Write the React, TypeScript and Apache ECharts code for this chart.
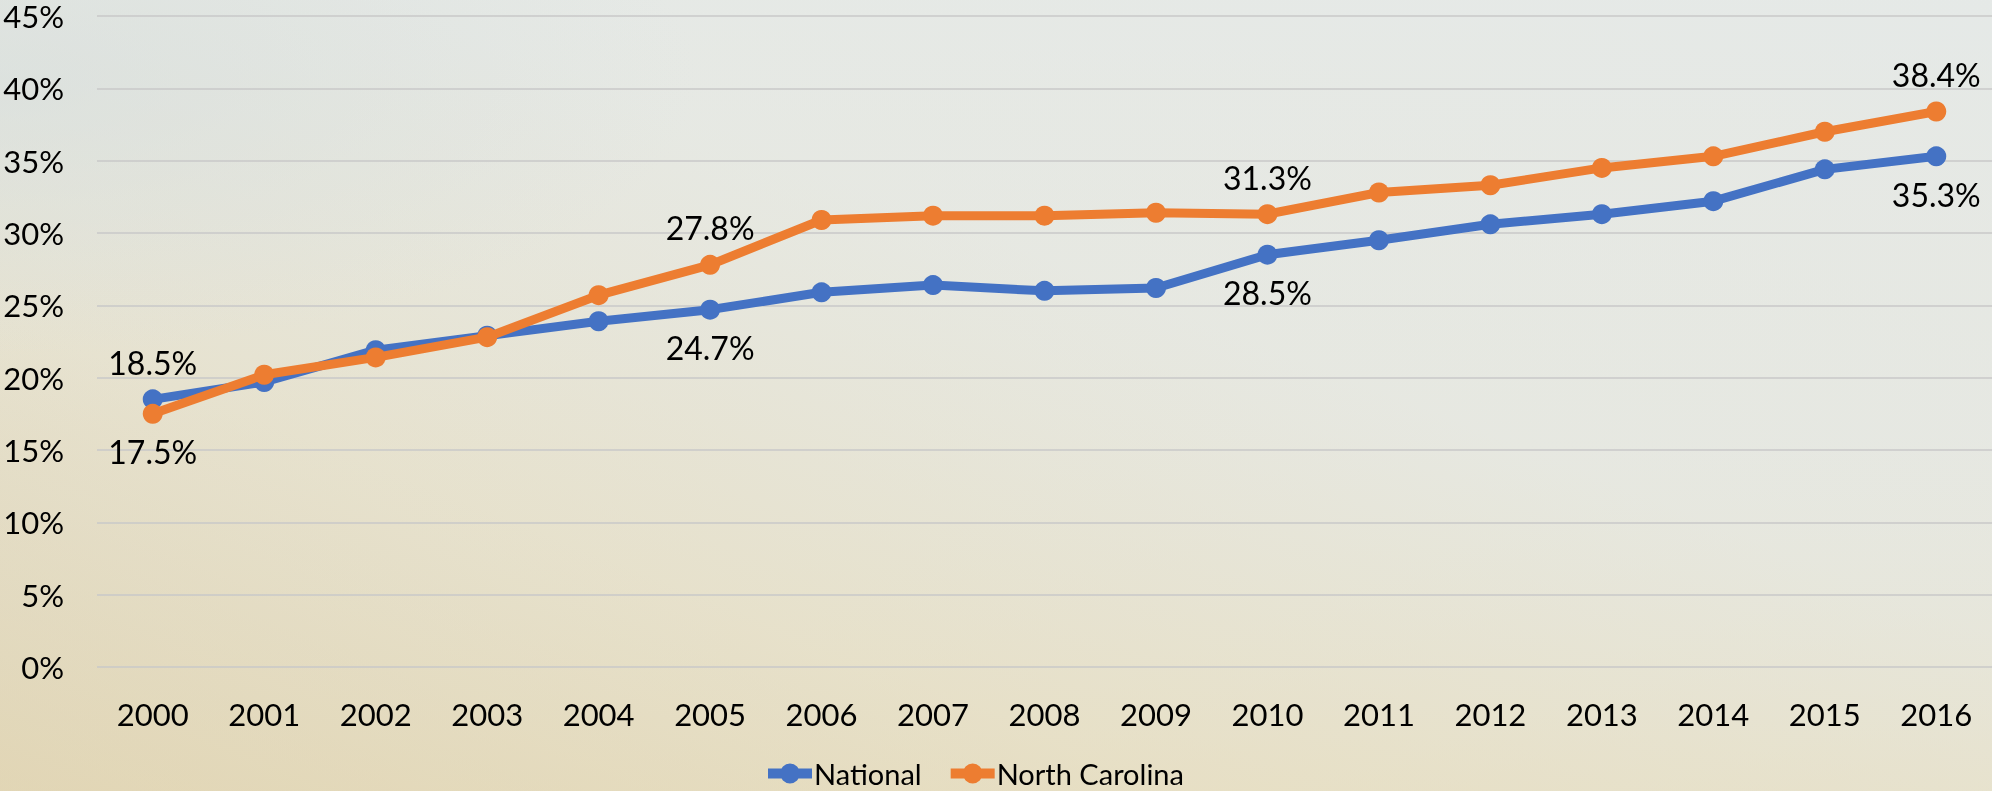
import React, { useEffect, useRef } from "react";
import * as echarts from "echarts";

const years = ["2000","2001","2002","2003","2004","2005","2006","2007","2008","2009","2010","2011","2012","2013","2014","2015","2016"];
const national = [18.5, 19.7, 21.9, 22.9, 23.9, 24.7, 25.9, 26.4, 26.0, 26.2, 28.5, 29.5, 30.6, 31.3, 32.2, 34.4, 35.3];
const northCarolina = [17.5, 20.2, 21.4, 22.8, 25.7, 27.8, 30.9, 31.2, 31.2, 31.4, 31.3, 32.8, 33.3, 34.5, 35.3, 37.0, 38.4];
const yTicks = [0, 5, 10, 15, 20, 25, 30, 35, 40, 45];
const labelledIdx = [0, 5, 10, 16];

const FONT = "Lato";
const FS = 31;
const LEGEND_ICON = "path://M0,5L44,5L44,15L0,15Z M12,10A10,10,0,1,1,32,10A10,10,0,1,1,12,10Z";

function buildData(values: number[], positions: Record<number, string>) {
  return values.map((v, i) => {
    if (!labelledIdx.includes(i)) return v;
    const pos = positions[i];
    return {
      value: v,
      label: {
        show: true,
        position: pos,
        distance: pos === "top" ? 11 : 12,
        formatter: (p: any) => p.value.toFixed(1) + "%",
        fontSize: 32,
        lineHeight: 32,
        fontFamily: FONT,
        color: "#000",
      },
    };
  });
}

export default function App() {
  const ref = useRef<HTMLDivElement>(null);
  useEffect(() => {
    document.body.style.margin = "0";
    document.body.style.overflow = "hidden";
    const chart = echarts.init(ref.current!, null, { renderer: "svg" });
    const W = 1992, H = 791;
    chart.setOption({
      animation: false,
      graphic: [
        {
          type: "rect", z: -100, silent: true,
          shape: { x: 0, y: 0, width: W, height: H },
          style: {
            fill: new echarts.graphic.LinearGradient(0, 1, 1, 0, [
              { offset: 0, color: "#dccfae" },
              { offset: 0.3, color: "#e6e0ca" },
              { offset: 0.6, color: "#e6e8e2" },
              { offset: 1, color: "#e4e8e6" },
            ]),
          },
        },
        {
          type: "rect", z: -99, silent: true,
          shape: { x: 0, y: 0, width: W, height: H },
          style: {
            fill: new echarts.graphic.LinearGradient(0, 0, 0, 1, [
              { offset: 0, color: "rgba(230,234,232,0.55)" },
              { offset: 0.55, color: "rgba(232,232,222,0.2)" },
              { offset: 1, color: "rgba(232,222,190,0.45)" },
            ]),
          },
        },
        {
          type: "rect", z: -98, silent: true,
          shape: { x: 0, y: 0, width: W, height: H },
          style: {
            fill: new echarts.graphic.RadialGradient(0.0, 0.1, 0.35, [
              { offset: 0, color: "rgba(214,222,222,0.6)" },
              { offset: 1, color: "rgba(214,222,222,0)" },
            ]),
          },
        },
      ],
      grid: { left: 97, right: 0, top: 16, bottom: 124, containLabel: false },
      legend: {
        left: 763,
        top: 754,
        itemWidth: 44,
        itemHeight: 20,
        itemGap: 29,
        textStyle: { fontSize: 29, lineHeight: 29, fontFamily: FONT, color: "#000", padding: [0, 0, 0, -3] },
        data: [
          { name: "National", icon: LEGEND_ICON },
          { name: "North Carolina", icon: LEGEND_ICON },
        ],
      },
      xAxis: {
        type: "category",
        data: years,
        boundaryGap: true,
        axisLine: { show: false },
        axisTick: { show: false },
        axisLabel: { fontSize: FS, lineHeight: 31, fontFamily: FONT, color: "#000", margin: 31 },
      },
      yAxis: {
        type: "value",
        min: yTicks[0],
        max: yTicks[yTicks.length - 1],
        interval: 5,
        axisLine: { show: false },
        axisTick: { show: false },
        axisLabel: { fontSize: FS, lineHeight: 26, fontFamily: FONT, color: "#000", margin: 33, formatter: "{value}%" },
        splitLine: { lineStyle: { color: "rgba(200,200,200,0.75)", width: 2 } },
      },
      series: [
        {
          name: "National",
          type: "line",
          data: buildData(national, { 0: "top", 5: "bottom", 10: "bottom", 16: "bottom" }),
          color: "#4472C4",
          lineStyle: { width: 9, color: "#4472C4" },
          symbol: "circle",
          symbolSize: 20,
          itemStyle: { color: "#4472C4" },
          z: 2,
        },
        {
          name: "North Carolina",
          type: "line",
          data: buildData(northCarolina, { 0: "bottom", 5: "top", 10: "top", 16: "top" }),
          color: "#ED7D31",
          lineStyle: { width: 9, color: "#ED7D31" },
          symbol: "circle",
          symbolSize: 20,
          itemStyle: { color: "#ED7D31" },
          z: 3,
        },
      ],
    });
    return () => chart.dispose();
  }, []);
  return <div ref={ref} style={{ position: "fixed", left: 0, top: 0, width: 1992, height: 791 }} />;
}
